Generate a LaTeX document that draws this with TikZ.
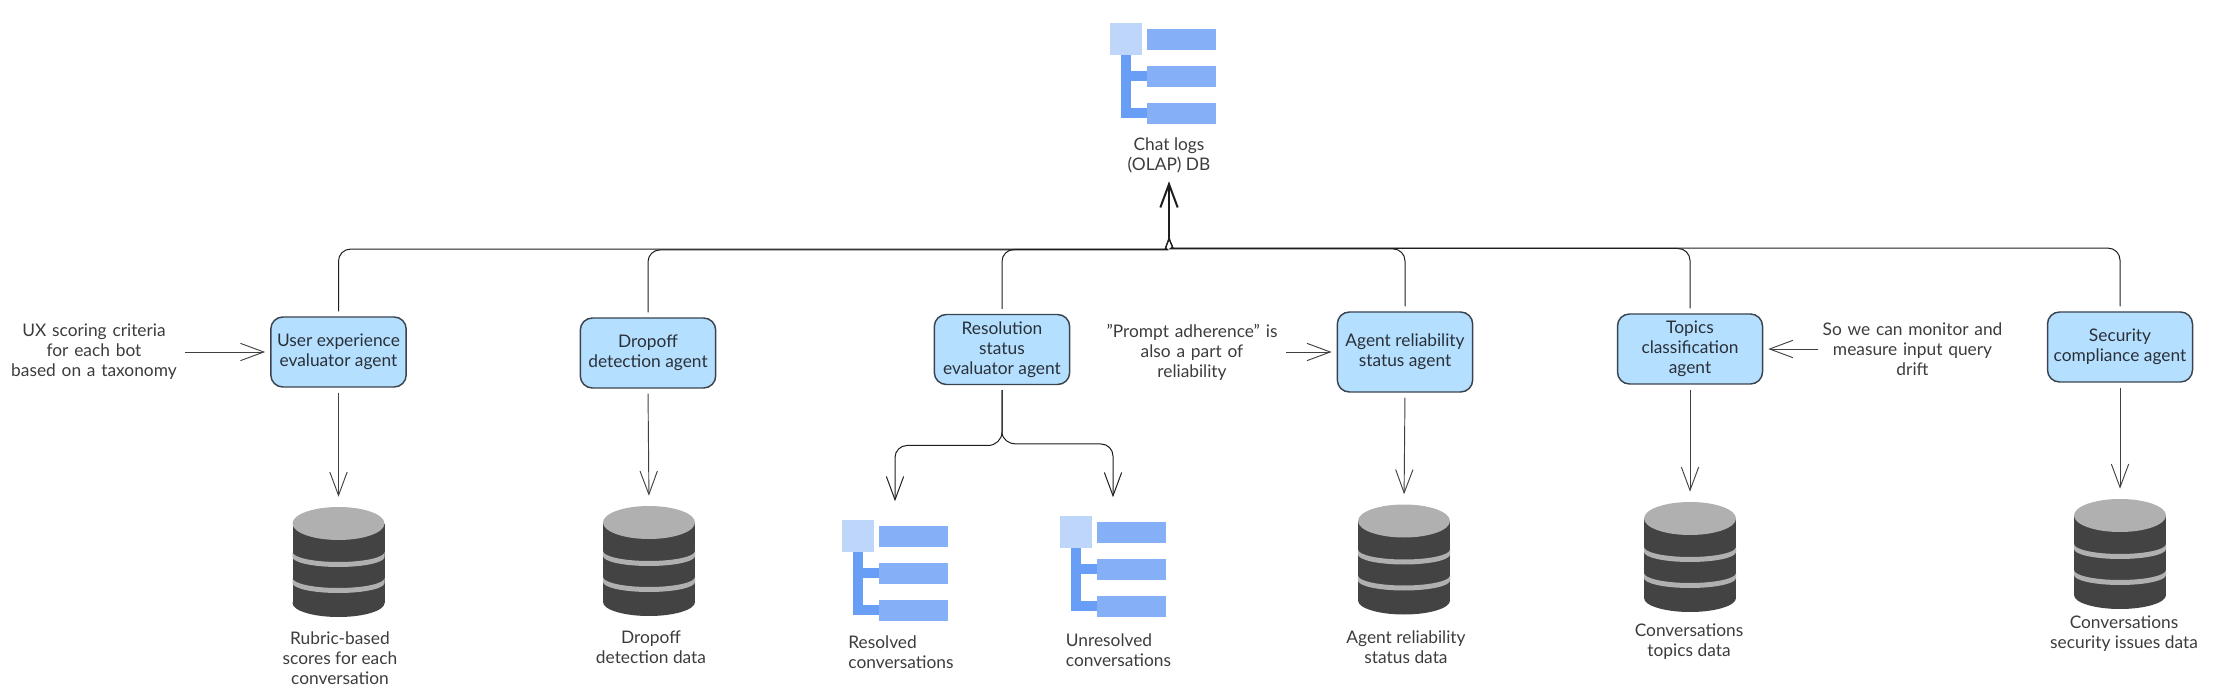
\documentclass[tikz,border=0pt]{standalone}
\usepackage{fontspec}
\setmainfont{Lato}
\usepackage{tikz}
\usetikzlibrary{positioning, arrows.meta, calc}

\definecolor{boxfill}{HTML}{B5DFFF}
\definecolor{boxline}{HTML}{3A4450}
\definecolor{wirecol}{HTML}{1E1E1E}
\definecolor{inktext}{HTML}{3C3C3C}
\definecolor{dbdark}{HTML}{434343}
\definecolor{dblight}{HTML}{B0B0B0}
\definecolor{iconsq}{HTML}{BFD6FB}
\definecolor{iconbar}{HTML}{85B0F8}
\definecolor{icontrunk}{HTML}{689EF6}

\tikzset{
    agent/.style={draw=boxline, line width=1.1pt, fill=boxfill, rounded corners=9pt, inner sep=0pt,
        minimum width=101.5pt, minimum height=52.5pt, align=center, text=boxline!70!black,
        font=\fontsize{13}{15}\selectfont},
    caption/.style={inner sep=0pt, align=center, text=inktext, font=\fontsize{13}{15}\selectfont},
    sidenote/.style={caption, text width=141pt},
    dbbox/.style={inner sep=0pt, minimum width=69pt, minimum height=82.5pt},
    iconbox/.style={inner sep=0pt, minimum width=79.5pt, minimum height=75.75pt},
    link/.style={->, color=wirecol!85!white, line width=.7pt, shorten <=3.75pt, shorten >=7.5pt},
    wire/.style={color=wirecol, line width=.75pt, shorten <=3.75pt},
    >={Straight Barb[length=17.5pt,width=13pt]}
}

\newcommand{\dbstack}[3]{
    \node[dbbox] (#1) at (#2,#3) {};
    \begin{scope}[shift={(#1.center)}]
        \fill[dbdark] (-46,-38.5) rectangle (46,41);
        \fill[dbdark] (0,41) ellipse [x radius=46, y radius=14];
        \foreach \b in {-10,16}
            \fill[dblight] (-46,\b) arc [start angle=180, end angle=0, x radius=46, y radius=10]
                -- ++(0,5) arc [start angle=0, end angle=180, x radius=46, y radius=10] -- cycle;
        \fill[dblight] (0,-38.5) ellipse [x radius=46, y radius=16.5];
    \end{scope}
}

\newcommand{\treeicon}[3]{
    \node[iconbox] (#1) at (#2,#3) {};
    \begin{scope}[shift={(#1.north west)}]
        \fill[icontrunk] (11,32) rectangle (21,95);
        \fill[icontrunk] (21,48) rectangle (37,58);
        \fill[icontrunk] (21,85) rectangle (37,95);
        \fill[iconsq] (0,0) rectangle (32,32);
        \fill[iconbar] (37,6) rectangle (106,27);
        \fill[iconbar] (37,43) rectangle (106,64);
        \fill[iconbar] (37,80) rectangle (106,101);
    \end{scope}
}

\begin{document}
\begin{tikzpicture}[x=.75pt,y=-.75pt]
        \useasboundingbox (0,0) rectangle (2214,698);

        \node[agent] (ux)    at (338.5,352) {User experience\\evaluator agent};
        \node[agent] (drop)  at (648,353) {Dropoff\\detection agent};
        \node[agent] (res)   at (1002,349.5) {Resolution\\status\\evaluator agent};
        \node[agent, minimum height=60pt] (rel) at (1405,352) {Agent reliability\\status agent};
        \node[agent, minimum width=108.75pt] (topic) at (1690,349) {Topics\\classification\\agent};
        \node[agent, minimum width=108.75pt] (sec)   at (2120,347) {Security\\compliance agent};

        \treeicon{logs}{1163}{73.5}
        \treeicon{resolved}{895}{571}
        \treeicon{unresolved}{1113}{567}

        \dbstack{uxdb}{338.5}{562}
        \dbstack{dropdb}{649}{561}
        \dbstack{reldb}{1404}{559.5}
        \dbstack{topicdb}{1690}{557}
        \dbstack{secdb}{2120}{554}

        \node[caption, minimum height=30pt] (logstext) at (1169,155) {Chat logs\\(OLAP) DB};
        \node[caption] (uxdbtext)    at (340,658) {Rubric-based\\scores for each\\conversation};
        \node[caption] (dropdbtext)  at (651,647) {Dropoff\\detection data};
        \node[caption, align=left] (resolvedtext)   at (901,652) {Resolved\\conversations};
        \node[caption, align=left] (unresolvedtext) at (1118.5,650) {Unresolved\\conversations};
        \node[caption] (reldbtext)   at (1406,647) {Agent reliability\\status data};
        \node[caption] (topicdbtext) at (1689,642) {Conversations\\topics data};
        \node[caption] (secdbtext)   at (2124,634) {Conversations\\security issues data};

        \node[sidenote, text width=136.5pt] (uxnote) at (94,352) {UX scoring criteria\\for each bot\\based on a taxonomy};
        \node[sidenote] (relnote)   at (1192,352) {"Prompt adherence" is\\also a part of\\reliability};
        \node[sidenote] (topicnote) at (1912.5,349) {So we can monitor and\\measure input query\\drift};

        \coordinate (hub)  at (1169,236);
        \coordinate (busl) at (1155,249.5);
        \coordinate (busr) at (1183,248.5);
        \coordinate (fork)  at (1002,432);
        \coordinate (forkl) at (988,445.5);
        \coordinate (forkr) at (1016,444);

        \foreach \n/\d in {ux/-.4,drop/.4,res/0}
            \draw[wire] (\n.north) [rounded corners=9pt] |- ($(busl)+(0,\d)$) [sharp corners] to [out=0,in=-90] (hub);
        \foreach \n/\d in {rel/.4,topic/0,sec/-.4}
            \draw[wire] (\n.north) [rounded corners=9pt] |- ($(busr)+(0,\d)$) [sharp corners] to [out=180,in=-90] (hub);
        \draw[->, color=wirecol, line width=1.5pt, shorten >=4.5pt] (hub) -- (logstext.south);

        \draw[wire, shorten >=14.25pt, ->] (res.south) -- (fork) to [out=-90,in=0] (forkl) [rounded corners=9pt] -| (resolved.north);
        \draw[wire, shorten >=14.25pt, ->] (res.south) -- (fork) to [out=-90,in=180] (forkr) [rounded corners=9pt] -| (unresolved.north);

        \path[link] (ux.south)    edge (uxdb.north)
                    (drop.south)  edge (dropdb.north)
                    (rel.south)   edge (reldb.north)
                    (topic.south) edge (topicdb.north)
                    (sec.south)   edge (secdb.north);

        \path[link, shorten <=0pt, shorten >=3.75pt] (uxnote.east) edge (ux.west)
                    (relnote.east)   edge (rel.west)
                    (topicnote.west) edge (topic.east);
    \end{tikzpicture}
\end{document}
